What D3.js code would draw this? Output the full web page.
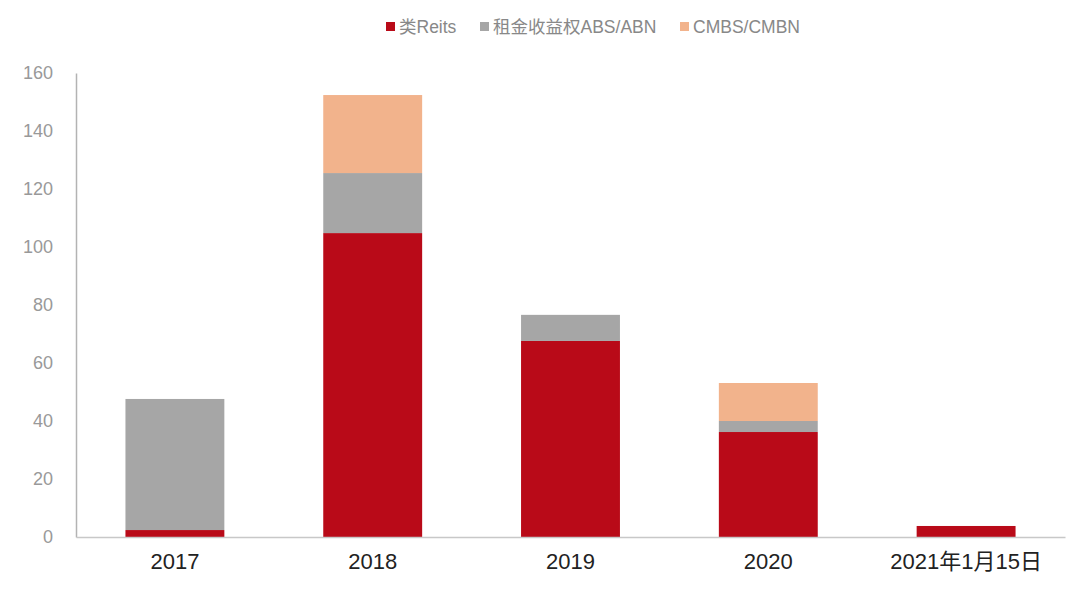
<!DOCTYPE html>
<html>
<head>
<meta charset="utf-8">
<script src="https://cdn.jsdelivr.net/npm/d3@7"></script>
<style>
  body { margin: 0; background: #fff; }
  svg { font-family: "Liberation Sans", "Noto Sans CJK SC", sans-serif; }
</style>
</head>
<body>
<svg id="chart"></svg>
<script>
const categories = ['2017', '2018', '2019', '2020', '2021年1月15日'];
const seriesNames = ['类Reits', '租金收益权ABS/ABN', 'CMBS/CMBN'];
const reits = [2.4, 104.8, 67.6, 36.2, 3.8];
const rentAbs = [45.2, 20.7, 9.0, 3.8, 0];
const cmbs = [0, 26.9, 0, 13.1, 0];
const yTicks = [0, 20, 40, 60, 80, 100, 120, 140, 160];
const colors = ['#b90a18', '#a6a6a6', '#f2b38c'];

const width = 1080, height = 596;
const margin = {top: 73, right: 15, bottom: 59, left: 76};

const svg = d3.select('#chart').attr('width', width).attr('height', height);

const rows = categories.map((c, i) => ({
  cat: c, s0: reits[i], s1: rentAbs[i], s2: cmbs[i]
}));
const layers = d3.stack().keys(['s0', 's1', 's2'])(rows);

const xScale = d3.scaleBand()
  .domain(categories)
  .range([margin.left, width - margin.right])
  .paddingInner(0.5)
  .paddingOuter(0.25);
const yScale = d3.scaleLinear()
  .domain([0, 160])
  .range([height - margin.bottom, margin.top]);

// y axis
const yAxisG = svg.append('g')
  .attr('transform', `translate(${margin.left},0)`)
  .call(d3.axisLeft(yScale).tickValues(yTicks).tickSize(0).tickPadding(23));
yAxisG.select('.domain').attr('stroke', '#b3b3b3').attr('stroke-width', 1.5);
yAxisG.selectAll('text').attr('fill', '#999').style('font-size', '18px')
  .style('font-family', '"Liberation Sans", sans-serif');

// bars
svg.append('g').selectAll('g')
  .data(layers)
  .join('g')
  .attr('fill', (d, i) => colors[i])
  .selectAll('rect')
  .data(d => d)
  .join('rect')
  .attr('x', d => xScale(d.data.cat))
  .attr('width', xScale.bandwidth())
  .attr('y', d => yScale(d[1]))
  .attr('height', d => yScale(d[0]) - yScale(d[1]));

// x axis
const xAxisG = svg.append('g')
  .attr('transform', `translate(0,${height - margin.bottom})`)
  .call(d3.axisBottom(xScale).tickSize(0).tickSizeOuter(0).tickPadding(16));
xAxisG.select('.domain').attr('stroke', '#c8c8c8').attr('stroke-width', 1.5);
xAxisG.selectAll('text').attr('fill', '#222').style('font-size', '22px')
  .style('font-family', '"Liberation Sans", "Noto Sans CJK SC", sans-serif');

// legend
const legendX = [386, 480, 680];
const legend = svg.append('g');
seriesNames.forEach((name, i) => {
  legend.append('rect')
    .attr('x', legendX[i]).attr('y', 22)
    .attr('width', 9).attr('height', 9)
    .attr('fill', colors[i]);
  legend.append('text')
    .attr('x', legendX[i] + 13).attr('y', 33)
    .attr('fill', '#888')
    .style('font-size', '17.5px')
    .text(name);
});
</script>
</body>
</html>
